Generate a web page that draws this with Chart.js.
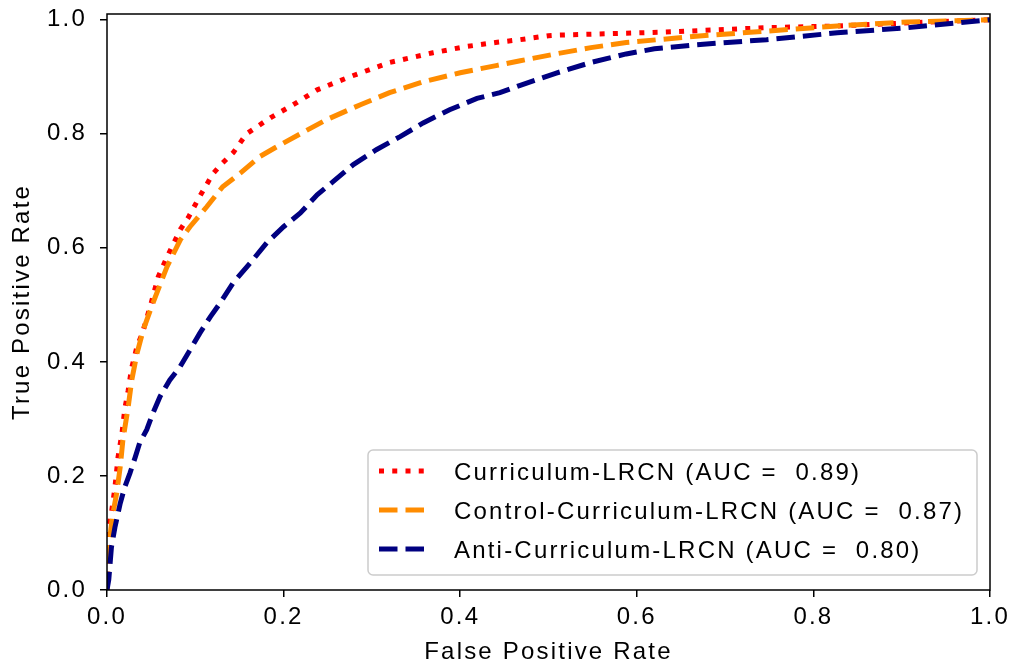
<!DOCTYPE html>
<html>
<head>
<meta charset="utf-8">
<script src="https://cdn.jsdelivr.net/npm/chart.js@4.4.1/dist/chart.umd.min.js"></script>
<style>
    body { margin: 0; background: #fff; }
</style>
</head>
<body>
<canvas id="rocChart" width="1011" height="664"></canvas>
<script>
// ROC points (false positive rate / true positive rate)
const curriculumFpr = [0, 0.001, 0.005, 0.009, 0.0125, 0.017, 0.02, 0.024, 0.028, 0.034, 0.04, 0.05, 0.058, 0.068, 0.083, 0.092, 0.105, 0.12, 0.131, 0.143, 0.158, 0.185, 0.211, 0.238, 0.275, 0.32, 0.369, 0.407, 0.44, 0.468, 0.5, 0.51, 0.627, 0.747, 0.827, 0.9, 1.0];
const curriculumTpr = [0, 0.105, 0.135, 0.18, 0.233, 0.275, 0.316, 0.35, 0.39, 0.427, 0.45, 0.503, 0.549, 0.584, 0.632, 0.653, 0.69, 0.73, 0.749, 0.767, 0.80, 0.828, 0.851, 0.877, 0.90, 0.925, 0.942, 0.953, 0.96, 0.965, 0.972, 0.973, 0.978, 0.986, 0.989, 0.994, 1.0];

const controlFpr = [0, 0.003, 0.006, 0.011, 0.015, 0.018, 0.024, 0.028, 0.034, 0.041, 0.052, 0.068, 0.083, 0.094, 0.113, 0.131, 0.151, 0.173, 0.192, 0.219, 0.249, 0.287, 0.32, 0.358, 0.40, 0.442, 0.468, 0.508, 0.548, 0.588, 0.667, 0.747, 0.827, 0.907, 1.0];
const controlTpr = [0, 0.088, 0.128, 0.17, 0.216, 0.263, 0.321, 0.368, 0.415, 0.456, 0.503, 0.567, 0.614, 0.637, 0.672, 0.707, 0.731, 0.76, 0.777, 0.80, 0.825, 0.851, 0.872, 0.891, 0.907, 0.92, 0.928, 0.94, 0.951, 0.96, 0.971, 0.98, 0.989, 0.996, 1.0];

const antiFpr = [0, 0.002, 0.005, 0.009, 0.015, 0.02, 0.026, 0.032, 0.037, 0.045, 0.052, 0.06, 0.071, 0.083, 0.094, 0.105, 0.117, 0.128, 0.143, 0.162, 0.181, 0.2, 0.219, 0.238, 0.256, 0.279, 0.305, 0.332, 0.358, 0.388, 0.419, 0.445, 0.468, 0.508, 0.548, 0.588, 0.62, 0.667, 0.747, 0.827, 0.907, 1.0];
const antiTpr = [0, 0.018, 0.075, 0.11, 0.152, 0.18, 0.205, 0.233, 0.258, 0.281, 0.31, 0.339, 0.368, 0.392, 0.421, 0.45, 0.479, 0.503, 0.539, 0.573, 0.609, 0.637, 0.661, 0.693, 0.716, 0.746, 0.772, 0.795, 0.819, 0.842, 0.862, 0.872, 0.885, 0.906, 0.925, 0.94, 0.949, 0.956, 0.965, 0.977, 0.986, 1.0];

const seriesLabels = [
    "Curriculum-LRCN (AUC =  0.89)",
    "Control-Curriculum-LRCN (AUC =  0.87)",
    "Anti-Curriculum-LRCN (AUC =  0.80)"
];
const xTicks = [0, 0.2, 0.4, 0.6, 0.8, 1.0];
const yTicks = [0, 0.2, 0.4, 0.6, 0.8, 1.0];

const FONT = "'Liberation Sans', Arial, sans-serif";
const LW = 5;

const toPoints = (xs, ys) => xs.map((x, i) => ({ x: x, y: ys[i] }));

Chart.defaults.color = "#000";
Chart.defaults.font.family = FONT;
Chart.defaults.font.size = 24;

// matplotlib-ish text spacing
const spacingPlugin = {
    id: "spacing",
    beforeLayout: (chart) => { chart.ctx.letterSpacing = "2.2px"; },
    beforeDraw: (chart) => { chart.ctx.letterSpacing = "2.2px"; }
};

// frame round the plot and the legend box inside it
const framePlugin = {
    id: "frame",
    afterDraw: (chart) => {
        const ctx = chart.ctx;
        const a = chart.chartArea;
        ctx.save();
        ctx.strokeStyle = "#000";
        ctx.lineWidth = 1.5;
        ctx.strokeRect(a.left, a.top, a.right - a.left, a.bottom - a.top);

        // legend
        const bx = 368, by = 450, bw = 609, bh = 125;
        ctx.beginPath();
        ctx.roundRect(bx, by, bw, bh, 5);
        ctx.fillStyle = "rgba(255,255,255,0.8)";
        ctx.fill();
        ctx.strokeStyle = "#cccccc";
        ctx.lineWidth = 1.5;
        ctx.stroke();

        ctx.font = "24px " + FONT;
        ctx.letterSpacing = "2.2px";
        ctx.textBaseline = "middle";
        ctx.textAlign = "left";
        chart.data.datasets.forEach((ds, i) => {
            const cy = 471 + i * 39;
            ctx.beginPath();
            ctx.setLineDash(ds.borderDash);
            ctx.lineDashOffset = 0;
            ctx.strokeStyle = ds.borderColor;
            ctx.lineWidth = LW;
            ctx.lineCap = "butt";
            ctx.moveTo(379, cy);
            ctx.lineTo(426, cy);
            ctx.stroke();
            ctx.setLineDash([]);
            ctx.fillStyle = "#000";
            ctx.fillText(ds.label, 454, cy + 2);
        });
        ctx.restore();
    }
};

const ctx = document.getElementById("rocChart").getContext("2d");
const myChart = new Chart(ctx, {
    type: "line",
    data: {
        datasets: [{
            label: seriesLabels[0],
            data: toPoints(curriculumFpr, curriculumTpr),
            borderColor: "#ff0000",
            borderDash: [5, 8.25],
            order: 3
        }, {
            label: seriesLabels[1],
            data: toPoints(controlFpr, controlTpr),
            borderColor: "#ff8c00",
            borderDash: [18.5, 8],
            order: 2
        }, {
            label: seriesLabels[2],
            data: toPoints(antiFpr, antiTpr),
            borderColor: "#000080",
            borderDash: [18.5, 8],
            order: 1
        }]
    },
    options: {
        responsive: false,
        animation: false,
        devicePixelRatio: 1,
        layout: { padding: { top: 14, right: 21, left: 0, bottom: 0 } },
        elements: {
            point: { radius: 0 },
            line: { borderWidth: LW, tension: 0, fill: false, borderCapStyle: "butt" }
        },
        plugins: {
            legend: { display: false },
            tooltip: { enabled: false }
        },
        scales: {
            x: {
                type: "linear",
                min: 0,
                max: 1,
                afterFit: (scale) => {
                    scale.height = 74;
                    scale.paddingLeft = 0;
                    scale.paddingRight = 0;
                },
                afterBuildTicks: (scale) => { scale.ticks = xTicks.map(v => ({ value: v })); },
                border: { display: false },
                grid: { drawOnChartArea: false, drawTicks: true, tickLength: 7, color: "#000", lineWidth: 1.5 },
                ticks: { padding: 6, maxRotation: 0, callback: (v) => v.toFixed(1) },
                title: { display: true, text: "False Positive Rate", padding: { top: 0, bottom: -3 } }
            },
            y: {
                type: "linear",
                min: 0,
                max: 1.01,
                afterFit: (scale) => {
                    scale.width = 107;
                    scale.paddingTop = 0;
                    scale.paddingBottom = 0;
                },
                afterBuildTicks: (scale) => { scale.ticks = yTicks.map(v => ({ value: v })); },
                border: { display: false },
                grid: { drawOnChartArea: false, drawTicks: true, tickLength: 7, color: "#000", lineWidth: 1.5 },
                ticks: { padding: 13, callback: (v) => v.toFixed(1) },
                title: { display: true, text: "True Positive Rate", padding: { top: 8, bottom: 0 } }
            }
        }
    },
    plugins: [spacingPlugin, framePlugin]
});
</script>
</body>
</html>
